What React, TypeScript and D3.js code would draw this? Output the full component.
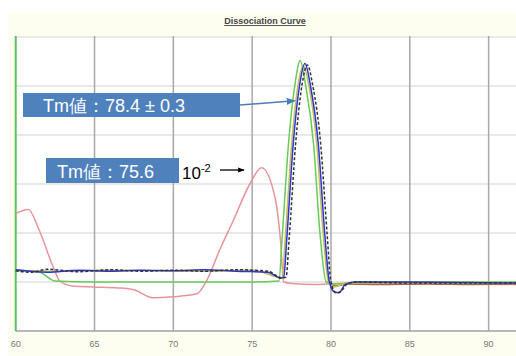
import * as d3 from 'd3';

// temperatures (°C) and -dF/dT values
const xTicks = [60, 65, 70, 75, 80, 85, 90];
const yGrid = [0, 1, 2, 3, 4, 5, 6];

const pinkT = [60, 60.8, 61.5, 62.4, 62.8, 63.6, 64.9, 66.5, 67.5, 68.7, 70, 71.5, 72.1, 73, 73.8, 74.85, 75.6, 76.45, 76.8, 77.0, 77.5, 79, 80.5, 85, 91.8];
const pinkV = [2.4, 2.48, 2.05, 1.29, 1.02, 0.92, 0.9, 0.88, 0.84, 0.68, 0.7, 0.76, 1.02, 1.7, 2.25, 3.0, 3.33, 2.72, 1.84, 1.0, 0.97, 0.95, 0.97, 0.97, 0.95];

const greenT = [60, 61.5, 62.5, 65, 70, 75, 76.7, 76.9, 77.3, 77.7, 78.05, 78.4, 78.9, 79.3, 79.7, 80.1, 82, 86, 91.8];
const greenV = [1.23, 1.2, 1.02, 1.0, 1.0, 1.0, 1.02, 1.9, 3.8, 5.0, 5.52, 5.0, 3.8, 2.0, 1.0, 0.96, 1.0, 1.0, 1.0];

const yellowT = [60, 63, 66, 69, 72, 75, 76.6, 76.9, 77.1, 77.5, 77.9, 78.25, 78.6, 79.1, 79.5, 79.85, 80.2, 81, 85, 91.8];
const yellowV = [1.24, 1.22, 1.24, 1.23, 1.22, 1.24, 1.1, 1.08, 1.9, 3.8, 5.0, 5.42, 5.0, 3.8, 2.0, 1.0, 0.9, 0.98, 0.99, 0.98];

const blueT = [60, 62, 64, 66, 68, 70, 72, 74, 76, 76.8, 77.0, 77.2, 77.6, 78.0, 78.35, 78.7, 79.2, 79.6, 79.9, 80.2, 80.5, 80.9, 81.5, 85, 91.8];
const blueV = [1.25, 1.2, 1.24, 1.22, 1.24, 1.23, 1.25, 1.22, 1.2, 1.08, 1.1, 1.9, 3.8, 5.0, 5.46, 5.0, 3.8, 2.0, 1.0, 0.8, 0.78, 0.95, 1.0, 1.0, 0.98];

const blackT = [60, 61, 62, 64, 66, 68, 70, 72, 74, 76, 76.9, 77.15, 77.35, 77.75, 78.15, 78.5, 78.85, 79.35, 79.75, 80.0, 80.3, 80.6, 81, 81.6, 85, 91.8];
const blackV = [1.23, 1.2, 1.26, 1.21, 1.25, 1.22, 1.24, 1.22, 1.25, 1.22, 1.08, 1.1, 1.9, 3.8, 5.0, 5.43, 5.0, 3.8, 2.0, 1.0, 0.78, 0.8, 0.95, 1.0, 0.98, 0.98];

const brownT = [79.8, 80.3, 81, 83, 86, 89, 91.8];
const brownV = [1.0, 0.92, 0.96, 0.95, 0.96, 0.95, 0.96];

const series = [
  {name: 'pink', t: pinkT, v: pinkV, color: '#e8949c', dash: ''},
  {name: 'brown', t: brownT, v: brownV, color: '#9a6a48', dash: ''},
  {name: 'green', t: greenT, v: greenV, color: '#66cc55', dash: ''},
  {name: 'yellow', t: yellowT, v: yellowV, color: '#c9bb55', dash: ''},
  {name: 'blue', t: blueT, v: blueV, color: '#2a36d0', dash: ''},
  {name: 'black', t: blackT, v: blackV, color: '#333333', dash: '3 2'},
];

const W = 516;
const H = 356;

const x = d3.scaleLinear().domain([60, 91.8]).range([15.7, 517]);
const y = d3.scaleLinear().domain([0, 6]).range([331, 37]);

const App = () => {
  const line = d3
    .line<[number, number]>()
    .x((d) => x(d[0]))
    .y((d) => y(d[1]))
    .curve(d3.curveMonotoneX);

  return (
    <svg
      width={W}
      height={H}
      style={{position: 'absolute', left: 0, top: 0, fontFamily: 'Arial, Liberation Sans, sans-serif'}}
    >
      <defs>
        <marker id='arrBlue' viewBox='0 0 10 10' refX='9' refY='5' markerWidth='6' markerHeight='6' orient='auto'>
          <path d='M0,1 L10,5 L0,9 z' fill='#4a7ebb' />
        </marker>
        <marker id='arrBlack' viewBox='0 0 10 10' refX='9' refY='5' markerWidth='5' markerHeight='5' orient='auto'>
          <path d='M0,1 L10,5 L0,9 z' fill='#000' />
        </marker>
      </defs>
      <rect x={0} y={0} width={W} height={H} fill='#ffffff' />
      <rect x={8} y={12} width={W - 8} height={H - 12} fill='#fefef0' />
      <rect x={x(60)} y={y(6) - 1} width={W - x(60)} height={y(0) - y(6) + 1} fill='#ffffff' />

      <text x={265} y={24} textAnchor='middle' fontSize={9} fontWeight='bold' fill='#444' textDecoration='underline'>
        Dissociation Curve
      </text>

      {yGrid.slice(1).map((g) => (
        <line key={g} x1={x(60)} x2={W} y1={y(g)} y2={y(g)} stroke='#e2e2e2' strokeWidth={1.5} />
      ))}
      {xTicks.slice(1).map((t) => (
        <line key={t} x1={x(t)} x2={x(t)} y1={y(6) - 1} y2={y(0)} stroke='#a8a8a8' strokeWidth={1.5} />
      ))}
      <line x1={x(60)} x2={W} y1={y(0)} y2={y(0)} stroke='#a0a0a0' strokeWidth={1.5} />
      <line x1={x(60)} x2={x(60)} y1={y(6) - 1} y2={y(0)} stroke='#5cc05c' strokeWidth={2} />

      {xTicks.map((t) => (
        <text key={t} x={x(t)} y={347} textAnchor='middle' fontSize={9} fill='#777'>
          {t}
        </text>
      ))}

      {series.map((s) => (
        <path
          key={s.name}
          d={line(s.t.map((t, i) => [t, s.v[i]] as [number, number])) || ''}
          fill='none'
          stroke={s.color}
          strokeWidth={1.5}
          strokeDasharray={s.dash}
        />
      ))}

      <rect x={23} y={93} width={217} height={24} fill='#4f81bd' />
      <text x={43} y={112} fontSize={18} fill='#ffffff'>
        Tm値：78.4 ± 0.3
      </text>
      <line x1={240} y1={105} x2={x(77.7)} y2={y(4.7)} stroke='#4a7ebb' strokeWidth={1.5} markerEnd='url(#arrBlue)' />

      <rect x={46} y={158} width={133} height={25} fill='#4f81bd' />
      <text x={57} y={178} fontSize={18} fill='#ffffff'>
        Tm値：75.6
      </text>
      <text x={182} y={179} fontSize={17} fill='#000'>
        10<tspan dy={-7} fontSize={11}>-2</tspan>
      </text>
      <line x1={220} y1={170} x2={244} y2={170} stroke='#000' strokeWidth={1.3} markerEnd='url(#arrBlack)' />
    </svg>
  );
};

export default App;
